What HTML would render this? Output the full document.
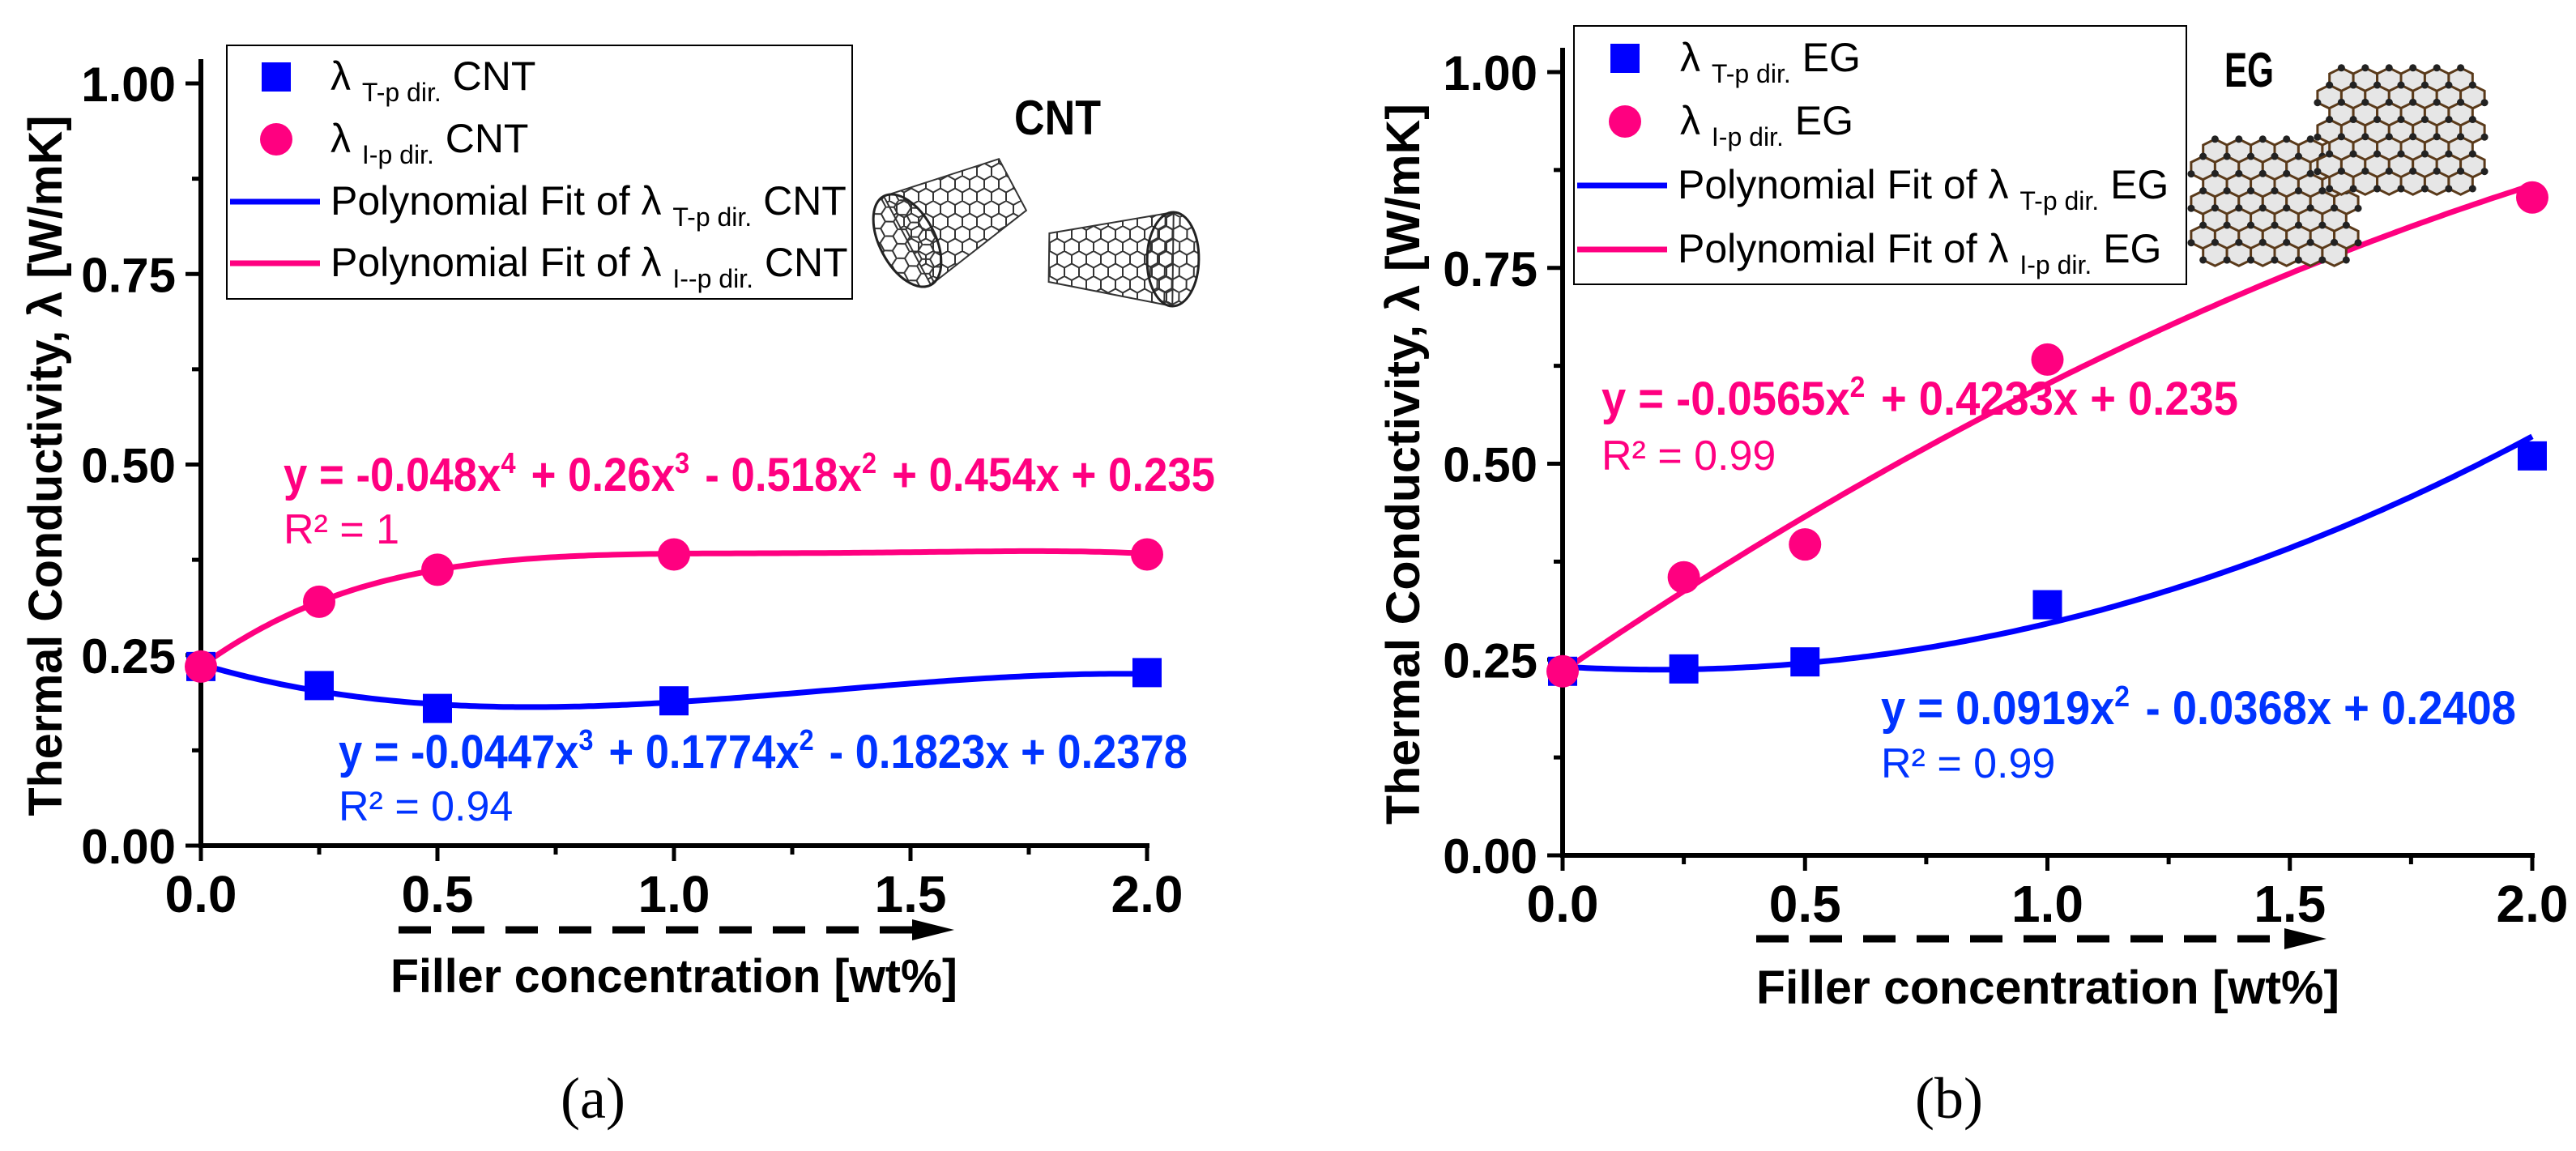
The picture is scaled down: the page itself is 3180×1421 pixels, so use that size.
<!DOCTYPE html>
<html><head><meta charset="utf-8"><style>
html,body{margin:0;padding:0;background:#fff}
svg{display:block}
text{font-family:"Liberation Sans",Arial,sans-serif}
</style></head><body>
<svg id="fig" width="3180" height="1421" viewBox="0 0 3180 1421" xmlns="http://www.w3.org/2000/svg">
<defs>
<pattern id="hexp" width="18" height="31" patternUnits="userSpaceOnUse">
<path d="M0,0 L9,5 L9,15.5 L0,20.5 M9,5 L18,0 M9,15.5 L18,20.5 M0,20.5 L0,31 M18,20.5 L18,31" fill="none" stroke="#333" stroke-width="2"/>
</pattern>
</defs>
<g id="panelA"></g>
<g id="panelB"></g>
</svg>
<script>
// ---- data ----
const xTicks = [0.0, 0.5, 1.0, 1.5, 2.0];
const xTickLabels = ["0.0","0.5","1.0","1.5","2.0"];
const yTicks = [0.00, 0.25, 0.50, 0.75, 1.00];
const yTickLabels = ["0.00","0.25","0.50","0.75","1.00"];
const conc = [0, 0.25, 0.5, 1.0, 2.0];
const cntT = [0.235, 0.21, 0.18, 0.19, 0.227];
const cntI = [0.235, 0.32, 0.362, 0.382, 0.382];
const egT = [0.235, 0.238, 0.247, 0.32, 0.51];
const egI = [0.235, 0.355, 0.397, 0.633, 0.84];
// polynomial coefficients (constant term first)
const cntTFit = [0.2378, -0.1823, 0.1774, -0.0447];
const cntIFit = [0.235, 0.454, -0.518, 0.26, -0.048];
const egTFit = [0.2408, -0.0368, 0.0919];
const egIFit = [0.235, 0.4233, -0.0565];

const NS = "http://www.w3.org/2000/svg";
function mk(parent, tag, attrs, txt){
  const e = document.createElementNS(NS, tag);
  for (const k in attrs) e.setAttribute(k, attrs[k]);
  if (txt !== undefined) e.textContent = txt;
  parent.appendChild(e); return e;
}
function poly(c, x){ let s=0; for(let i=c.length-1;i>=0;i--) s=s*x+c[i]; return s; }
const BLUE="#0000ff", PINK="#ff0080", TBLUE="#0033ff";

function panel(g, P){
  const sx = v => P.x0 + (v/2)*(P.x2-P.x0);
  const sy = v => P.y0 - v*(P.y0-P.y1);
  let e = mk(g,"line",{x1:P.x0,y1:P.y0,x2:P.x2+3,y2:P.y0,stroke:"#000","stroke-width":6});
   
  e = mk(g,"line",{x1:P.x0,y1:P.y0+3,x2:P.x0,y2:P.y1-30,stroke:"#000","stroke-width":6});
   
  for (let v=0; v<=1.0001; v+=0.125){
    const major = Math.abs(v*4-Math.round(v*4))<1e-6;
    e = mk(g,"line",{x1:P.x0-(major?19:11),y1:sy(v),x2:P.x0,y2:sy(v),stroke:"#000","stroke-width":5});
     
  }
  yTicks.forEach((v,i)=>{
    e = mk(g,"text",{x:P.x0-31,y:sy(v)+22,"text-anchor":"end","font-size":60,"font-weight":"bold"},yTickLabels[i]);
     
  });
  for (let v=0; v<=2.0001; v+=0.25){
    const major = Math.abs(v*2-Math.round(v*2))<1e-6;
    e = mk(g,"line",{x1:sx(v),y1:P.y0,x2:sx(v),y2:P.y0+(major?19:11),stroke:"#000","stroke-width":5});
     
  }
  xTicks.forEach((v,i)=>{
    e = mk(g,"text",{x:sx(v),y:P.y0+82,"text-anchor":"middle","font-size":64,"font-weight":"bold"},xTickLabels[i]);
     
  });
  e = mk(g,"text",{x:0,y:0,transform:`translate(${P.ytx},${P.ytyc}) rotate(-90)`,"text-anchor":"middle","font-size":58,"font-weight":"bold",textLength:P.ytl,lengthAdjust:"spacingAndGlyphs"},"Thermal Conductivity, λ [W/mK]");
   
  e = mk(g,"text",{x:P.xtx,y:P.xty,"font-size":58,"font-weight":"bold",textLength:P.xtl,lengthAdjust:"spacingAndGlyphs"},"Filler concentration [wt%]");
   
  e = mk(g,"line",{x1:P.ax1,y1:P.ay,x2:P.ax2-50,y2:P.ay,stroke:"#000","stroke-width":9,"stroke-dasharray":"40 26"});
   
  e = mk(g,"polygon",{points:`${P.ax2-52},${P.ay-13} ${P.ax2},${P.ay} ${P.ax2-52},${P.ay+13}`,fill:"#000"});
   
  e = mk(g,"text",{x:P.subx,y:1380,"text-anchor":"middle","font-size":72,style:"font-family:'Liberation Serif',serif"},P.sub);
   
  function fitPath(c,color,name){
    let d=""; for(let i=0;i<=200;i++){const x=2*i/200; d+=(i?"L":"M")+sx(x).toFixed(1)+","+sy(poly(c,x)).toFixed(1);}
    const p = mk(g,"path",{d,fill:"none",stroke:color,"stroke-width":7});
     
  }
  fitPath(P.tFit,BLUE,"fit-line-t-p");
  fitPath(P.iFit,PINK,"fit-line-i-p");
  P.t.forEach((v,i)=>{
    const r = mk(g,"rect",{x:sx(conc[i])-18,y:sy(v)-18,width:36,height:36,fill:BLUE});
     
  });
  P.i.forEach((v,i)=>{
    const c = mk(g,"circle",{cx:sx(conc[i]),cy:sy(v),r:20,fill:PINK});
     
  });
  function eq(x,y,parts,color,len,name){
    const t = mk(g,"text",{x,y,"font-size":58,"font-weight":"bold",fill:color,textLength:len,lengthAdjust:"spacingAndGlyphs"});
    parts.forEach(p=>{
      if (typeof p==="string") mk(t,"tspan",{},p);
      else mk(t,"tspan",{"font-size":36,dy:-22},p[0]), mk(t,"tspan",{dy:22},"\u200a");
    });
     
  }
  eq(P.pe[0],P.pe[1],P.peParts,PINK,P.pe[2],"equation-i-p");
  e = mk(g,"text",{x:P.pe[0],y:P.pe[3],"font-size":52,fill:PINK},P.pr);
   
  eq(P.be[0],P.be[1],P.beParts,TBLUE,P.be[2],"equation-t-p");
  e = mk(g,"text",{x:P.be[0],y:P.be[3],"font-size":52,fill:TBLUE},P.br);
   
  const L=P.leg;
  const lg = mk(g,"g",{});
   
  mk(lg,"rect",{x:L.x,y:L.y,width:L.w,height:L.h,fill:"#fff",stroke:"#000","stroke-width":2});
  const rows=L.rows, mx=L.x+L.mk, tx=L.tx;
  let it = mk(lg,"rect",{x:mx-18,y:rows[0]-18,width:36,height:36,fill:BLUE});
   
  it = mk(lg,"circle",{cx:mx,cy:rows[1],r:20,fill:PINK});
   
  it = mk(lg,"line",{x1:L.x+4,y1:rows[2],x2:L.x+115,y2:rows[2],stroke:BLUE,"stroke-width":7});
   
  it = mk(lg,"line",{x1:L.x+4,y1:rows[3],x2:L.x+115,y2:rows[3],stroke:PINK,"stroke-width":7});
   
  L.labels.forEach((lab,k)=>{
    const t = mk(lg,"text",{x:k<2?tx:L.x+128,y:rows[k]+16,"font-size":50});
    mk(t,"tspan",{},lab[0]);
    mk(t,"tspan",{"font-size":32,dy:14},lab[1]);
    mk(t,"tspan",{dy:-14}," "+lab[2]);
     
  });
  e = mk(g,"text",{x:P.tag[0],y:P.tag[1],"font-size":60,"font-weight":"bold",textLength:P.tag[2],lengthAdjust:"spacingAndGlyphs"},P.tagText);
   
}

panel(document.getElementById("panelA"),{
  x0:248,x2:1416,y0:1044,y1:103,t:cntT,i:cntI,tFit:cntTFit,iFit:cntIFit,
  ytx:76,ytyc:575,ytl:865,xtx:482,xty:1225,xtl:700,ax1:492,ax2:1178,ay:1148,subx:732,sub:"(a)",
  pe:[350,606,1150,671],peParts:["y = -0.048x",["4"]," + 0.26x",["3"]," - 0.518x",["2"]," + 0.454x + 0.235"],pr:"R² = 1",
  be:[418,948,1048,1013],beParts:["y = -0.0447x",["3"]," + 0.1774x",["2"]," - 0.1823x + 0.2378"],br:"R² = 0.94",
  leg:{x:280,y:56,w:772,h:313,mk:61,tx:408,rows:[95,172,249,325],labels:[["λ  ","T-p dir."," CNT"],["λ  ","I-p dir."," CNT"],["Polynomial Fit of λ ","T-p dir."," CNT"],["Polynomial Fit of λ ","I--p dir."," CNT"]]},
  tag:[1252,166,107],tagText:"CNT"
});
panel(document.getElementById("panelB"),{
  x0:1929,x2:3126,y0:1056,y1:89,t:egT,i:egI,tFit:egTFit,iFit:egIFit,
  ytx:1752,ytyc:573,ytl:890,xtx:2168,xty:1239,xtl:720,ax1:2168,ax2:2872,ay:1159,subx:2406,sub:"(b)",
  pe:[1977,512,786,580],peParts:["y = -0.0565x",["2"]," + 0.4233x + 0.235"],pr:"R² = 0.99",
  be:[2322,894,784,960],beParts:["y = 0.0919x",["2"]," - 0.0368x + 0.2408"],br:"R² = 0.99",
  leg:{x:1943,y:32,w:756,h:319,mk:63,tx:2074,rows:[72,150,229,308],labels:[["λ ","T-p dir."," EG"],["λ ","I-p dir."," EG"],["Polynomial Fit of λ ","T-p dir."," EG"],["Polynomial Fit of λ ","I-p dir."," EG"]]},
  tag:[2746,107,61],tagText:"EG"
});

const svg=document.getElementById("fig");
function tube(x1,y1,r1,x2,y2,r2,name){
  const g=mk(svg,"g",{});
   
  const a=Math.atan2(y2-y1,x2-x1), nx=-Math.sin(a), ny=Math.cos(a);
  const pts=[[x1+nx*r1,y1+ny*r1],[x2+nx*r2,y2+ny*r2],[x2-nx*r2,y2-ny*r2],[x1-nx*r1,y1-ny*r1]];
  mk(g,"polygon",{points:pts.map(p=>p.join(",")).join(" "),fill:"url(#hexp)",stroke:"#333","stroke-width":2});
  const deg=a*180/Math.PI;
  mk(g,"ellipse",{cx:x1,cy:y1,rx:r1*0.55,ry:r1,transform:`rotate(${deg} ${x1} ${y1})`,fill:"url(#hexp)",stroke:"#222","stroke-width":3});
}
tube(1120,297,62,1250,228,36,"nanotube-image-1");
tube(1448,320,58,1295,318,30,"nanotube-image-2");
function sheet(cx,cy,w,h,name){
  const g=mk(svg,"g",{});
   
  const s=17, dx=s*Math.sqrt(3);
  for(let r=-5;r<=5;r++) for(let c=-5;c<=5;c++){
    const x=cx+c*dx+r*dx*0.5, y=cy+r*s*1.25;
    if(Math.abs((x-cx)/(w/2))>1 || Math.abs((y-cy)/(h/2))>1) continue;
    let d="";
    for(let k=0;k<6;k++){const an=Math.PI/6+k*Math.PI/3; d+=(k?"L":"M")+(x+s*Math.cos(an)).toFixed(1)+","+(y+s*0.85*Math.sin(an)).toFixed(1);}
    mk(g,"path",{d:d+"Z",fill:"#e6e6e6",stroke:"#5a3a1a","stroke-width":3});
    for(let k=0;k<6;k+=2){const an=Math.PI/6+k*Math.PI/3; mk(g,"circle",{cx:x+s*Math.cos(an),cy:y+s*0.85*Math.sin(an),r:4.5,fill:"#222"});}
  }
}
sheet(2808,250,190,150,"graphene-image-1");
sheet(2964,162,190,150,"graphene-image-2");
</script>
</body></html>
